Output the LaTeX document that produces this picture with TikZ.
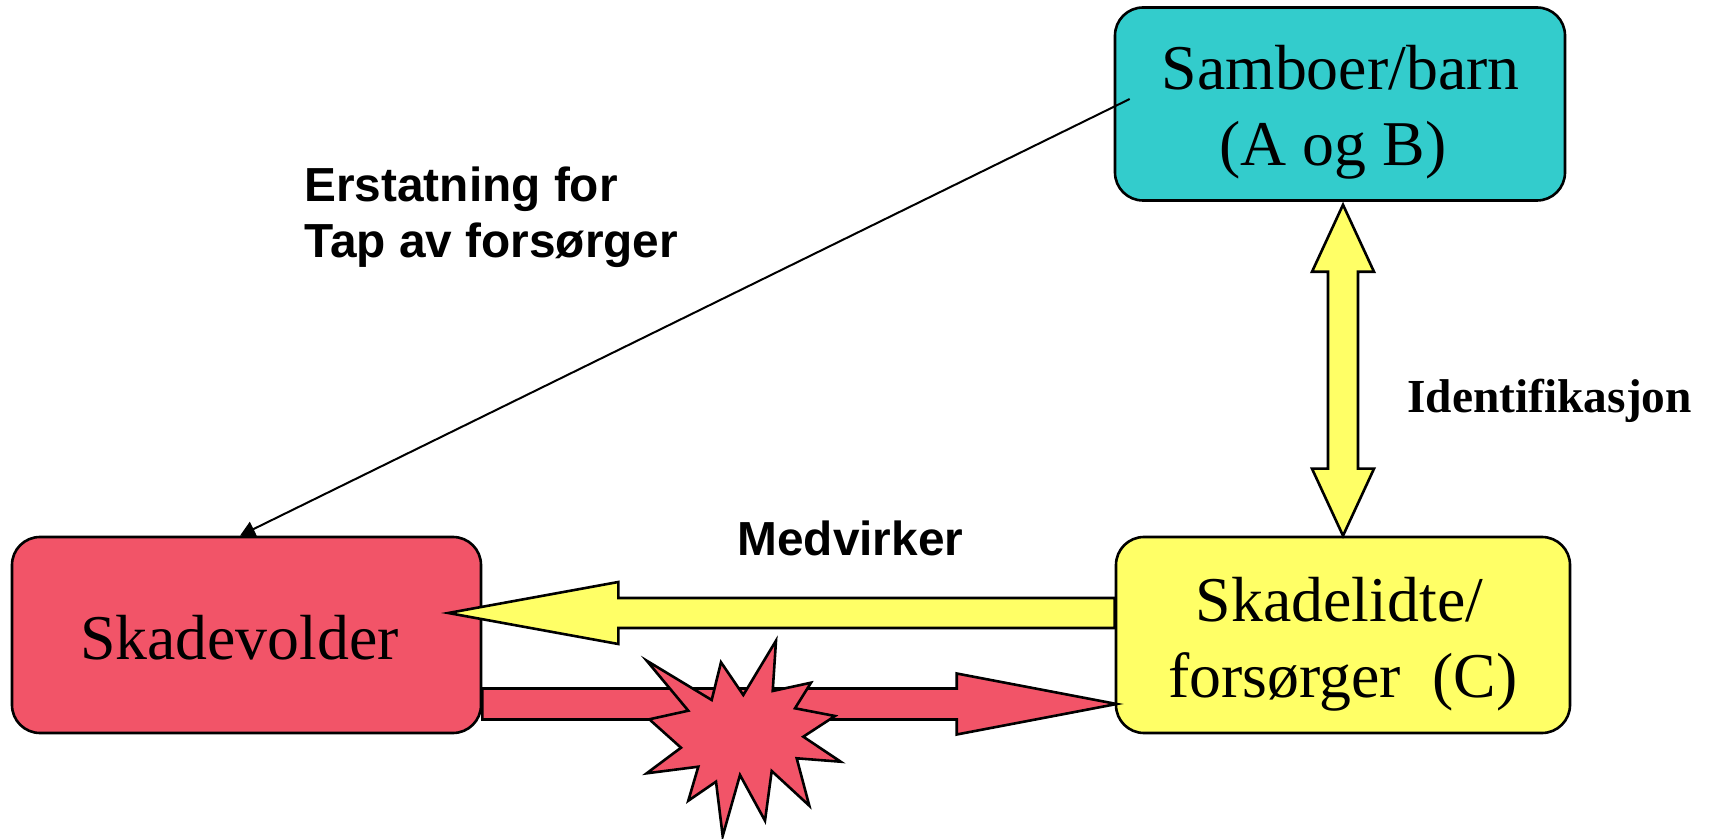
\documentclass[tikz,border=0pt]{standalone}
\usepackage{fontspec}
\setmainfont{Liberation Serif}
\newfontfamily\arialfont{Liberation Sans}
\usetikzlibrary{calc,arrows.meta}
\definecolor{cyanbox}{RGB}{51,204,204}
\definecolor{redbox}{RGB}{242,84,104}
\definecolor{yellowbox}{RGB}{255,255,102}
\newcommand\fatarrow[6]{%
  \coordinate (fah) at ($(#3)!#6!(#2)$);
  \filldraw[#1] ($(#2)!#4!90:(#3)$) -- ($(fah)!#4!90:(#3)$) -- ($(fah)!#5!90:(#3)$) -- (#3)
    -- ($(fah)!#5!-90:(#3)$) -- ($(fah)!#4!-90:(#3)$) -- ($(#2)!#4!-90:(#3)$) -- cycle;
}
\newcommand\fatdoublearrow[6]{%
  \coordinate (fha) at ($(#2)!#6!(#3)$);
  \coordinate (fhb) at ($(#3)!#6!(#2)$);
  \filldraw[#1] (#2) -- ($(fha)!#5!90:(#3)$) -- ($(fha)!#4!90:(#3)$) -- ($(fhb)!#4!-90:(#2)$)
    -- ($(fhb)!#5!-90:(#2)$) -- (#3) -- ($(fhb)!#5!90:(#2)$) -- ($(fhb)!#4!90:(#2)$)
    -- ($(fha)!#4!-90:(#3)$) -- ($(fha)!#5!-90:(#3)$) -- cycle;
}
\begin{document}
\begin{tikzpicture}[x=0.5pt,y=-0.5pt,
  box/.style={draw=black,line width=1.3pt,rounded corners=14pt,inner sep=0pt},
  boxtext/.style={inner sep=0pt,anchor=base,font=\fontsize{31.9}{38}\selectfont},
  labeltext/.style={inner sep=0pt,anchor=base west,font=\arialfont\bfseries\fontsize{23.9}{28}\selectfont},
  fatline/.style={draw=black,line width=1.3pt,line join=miter},
  thinline/.style={draw=black,line width=1pt}]
\useasboundingbox (0,0) rectangle (1714,839);
% boxes
\node[box,fill=cyanbox,minimum width=225pt,minimum height=96.5pt] (samboer) at (1340,104) {};
\node[box,fill=redbox,minimum width=234.5pt,minimum height=98pt] (skadevolder) at (246.5,635) {};
\node[box,fill=yellowbox,minimum width=227pt,minimum height=98pt] (skadelidte) at (1343,635) {};
% diagonal connector
\coordinate (dstart) at ($(samboer.west)+(16,-5)$);
\coordinate (dend) at ($(skadevolder.north)+(-6.5,0)$);
\draw[thinline,-{Triangle[length=7.5pt,width=8pt]}] (dstart) -- (dend);
% double arrow
\coordinate (dtop) at ($(samboer.south)+(3,3)$);
\coordinate (dbot) at (skadelidte.north);
\fatdoublearrow{fatline,fill=yellowbox}{dtop}{dbot}{7.5pt}{15.5pt}{33.5pt}
% yellow arrow (Medvirker)
\coordinate (ystart) at ($(skadelidte.west)+(0,-22)$);
\coordinate (yend) at ($(skadevolder.east)+(-34,-22)$);
\fatarrow{fatline,fill=yellowbox}{ystart}{yend}{7.5pt}{15.5pt}{85pt}
% red arrow
\coordinate (rstart) at ($(skadevolder.east)+(0,69)$);
\coordinate (rend) at ($(skadelidte.west)+(2,69)$);
\fatarrow{fatline,fill=redbox}{rstart}{rend}{7.75pt}{15.25pt}{80pt}
% explosion star
\filldraw[fatline,fill=redbox] (646.7,660.7) -- (711.7,700) -- (721,662.3) -- (743.3,695) -- (776,640.7)
  -- (772.7,691) -- (811,682.7) -- (795,708.3) -- (835,716) -- (803.3,736.7) -- (840.7,761.7)
  -- (796.7,758.3) -- (809.3,805.7) -- (771.7,771) -- (765,820.7) -- (740,775) -- (722.7,836)
  -- (716,781.7) -- (688.3,800.7) -- (698.3,766.7) -- (646.7,773.3) -- (681,747.7)
  -- (649.3,719.3) -- (688.3,710.7) -- cycle;
% box texts
\node[boxtext] (samboerA) at (1340.5,90) {Samboer/barn};
\node[boxtext] (samboerB) at (1333,166) {(A og B)};
\node[boxtext] (skadevolderT) at (239.5,659) {Skadevolder};
\node[boxtext] (skadelidteA) at (1339.5,621) {Skadelidte/};
\node[boxtext] (skadelidteB) at (1343,697) {forsørger\ \ (C)};
% labels
\node[labeltext] (erstA) at (304,202) {Erstatning for};
\node[labeltext] (erstB) at (304,258) {Tap av forsørger};
\node[labeltext] (medv) at (737,555) {Medvirker};
\node[inner sep=0pt,anchor=base west,font=\bfseries\fontsize{23.7}{28}\selectfont] (ident) at (1407,413) {Identifikasjon};
\end{tikzpicture}
\end{document}
